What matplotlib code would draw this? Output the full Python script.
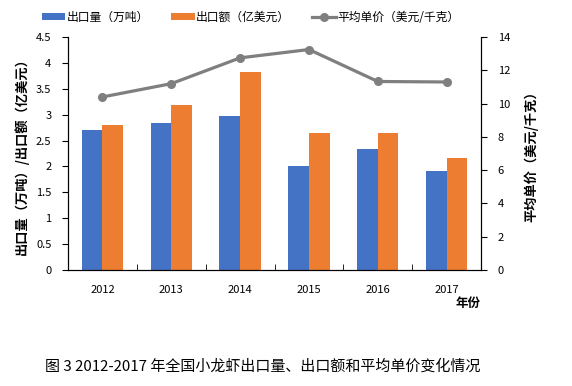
import matplotlib
matplotlib.use("Agg")
import matplotlib.pyplot as plt
import numpy as np
from matplotlib.patches import Patch
from matplotlib.lines import Line2D

plt.rcParams['font.family'] = ['Noto Sans CJK SC', 'DejaVu Sans']

years = ["2012", "2013", "2014", "2015", "2016", "2017"]
volume = [2.70, 2.84, 2.98, 2.01, 2.34, 1.91]      # 出口量（万吨）
value = [2.80, 3.19, 3.82, 2.65, 2.65, 2.16]       # 出口额（亿美元）
price = [10.4, 11.2, 12.75, 13.25, 11.33, 11.3]    # 平均单价（美元/千克）

blue = "#4472C4"
orange = "#ED7D31"
gray = "#7F7F7F"

fig = plt.figure(figsize=(5.72, 3.86), dpi=100)
ax = fig.add_axes([0.119, 0.3005, 0.722, 0.6035])

x = np.arange(len(years))
w = 0.3
ax.bar(x - w / 2, volume, w, color=blue)
ax.bar(x + w / 2, value, w, color=orange)
ax.set_xlim(-0.5, len(years) - 0.5)
ax.set_ylim(0, 4.5)
ax.set_yticks(np.arange(0, 4.6, 0.5))
ax.set_yticklabels(["0", "0.5", "1", "1.5", "2", "2.5", "3", "3.5", "4", "4.5"])
ax.tick_params(axis="y", direction="out", length=4, labelsize=8, pad=8)

# year labels without ticks, ticks at category boundaries pointing inward
ax.set_xticks(x)
ax.set_xticklabels(years)
ax.tick_params(axis="x", length=0, labelsize=8, pad=11)
ax.set_xticks(np.arange(0.5, len(years) - 0.5, 1), minor=True)
ax.tick_params(axis="x", which="minor", direction="in", length=4)
ax.spines["top"].set_visible(False)
ax.set_ylabel("出口量（万吨）/出口额（亿美元）", fontsize=9.5, fontweight="bold",
              labelpad=5)

ax2 = ax.twinx()
ax2.plot(x, price, color=gray, lw=2.3, marker="o", ms=5.5)
ax2.set_ylim(0, 14)
ax2.set_yticks(np.arange(0, 15, 2))
ax2.tick_params(axis="y", direction="out", length=4, labelsize=8, pad=8)
ax2.spines["top"].set_visible(False)
ax2.set_ylabel("平均单价（美元/千克）", fontsize=9.5, fontweight="bold", labelpad=10)

fig.text(0.818, 0.213, "年份", fontsize=9, fontweight="bold", ha="center",
         va="center")

handles = [
    Patch(fc=blue, label="出口量（万吨）"),
    Patch(fc=orange, label="出口额（亿美元）"),
    Line2D([], [], color=gray, lw=2.3, marker="o", ms=5.5,
           label="平均单价（美元/千克）"),
]
fig.legend(handles=handles, loc="center", bbox_to_anchor=(0.438, 0.955),
           ncol=3, frameon=False, fontsize=8.5, handlelength=2.0,
           handleheight=0.5, columnspacing=1.9, handletextpad=0.1)

fig.text(0.078, 0.05, "图 3 2012-2017 年全国小龙虾出口量、出口额和平均单价变化情况",
         fontsize=10.8, ha="left", va="center")

fig.savefig("out.png", dpi=100)
